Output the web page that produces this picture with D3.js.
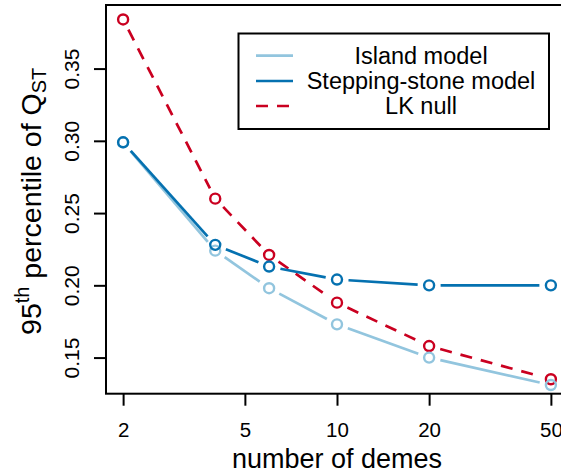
<!DOCTYPE html>
<html>
<head>
<meta charset="utf-8">
<script src="https://cdn.jsdelivr.net/npm/d3@7"></script>
<style>
  body { margin: 0; background: #fff; }
  svg { display: block; font-family: "Liberation Sans", Arial, Helvetica, sans-serif; }
</style>
</head>
<body>
<div id="chart"></div>
<script>
// values
const demes = [2, 4, 6, 10, 20, 50];
const island = [0.299, 0.224, 0.198, 0.173, 0.150, 0.131];
const steppingStone = [0.299, 0.228, 0.213, 0.204, 0.200, 0.200];
const lkNull = [0.384, 0.260, 0.221, 0.188, 0.158, 0.135];

const xTicks = [2, 5, 10, 20, 50];
const yTicks = [0.15, 0.20, 0.25, 0.30, 0.35];

const seriesNames = ["Island model", "Stepping-stone model", "LK null"];
const seriesColors = ["#92c5de", "#0571b0", "#ca0020"];
const seriesDash = [null, null, "12,9"];

const width = 561, height = 476;
const box = { left: 106, top: 5, right: 568, bottom: 393.7 };

// R-style 4% extension on the log axis
const span = 50 / 2;
const x = d3.scaleLog()
  .domain([2 / Math.pow(span, 0.04), 50 * Math.pow(span, 0.04)])
  .range([box.left, box.right]);

const y = d3.scaleLinear()
  .domain([0.125, 0.394])
  .range([box.bottom, box.top]);

const svg = d3.select("#chart").append("svg")
  .attr("width", width)
  .attr("height", height);

// plotted series, drawn in this order
const series = [
  { name: seriesNames[2], values: lkNull, color: seriesColors[2], dash: seriesDash[2] },
  { name: seriesNames[0], values: island, color: seriesColors[0], dash: seriesDash[0] },
  { name: seriesNames[1], values: steppingStone, color: seriesColors[1], dash: seriesDash[1] },
];

const gap = 11.5; // type="b" gap around points

series.forEach(s => {
  const pts = demes.map((d, i) => [x(d), y(s.values[i])]);
  const g = svg.append("g");
  d3.pairs(pts).forEach(([a, b]) => {
    const dx = b[0] - a[0], dy = b[1] - a[1];
    const len = Math.hypot(dx, dy);
    if (len <= 2 * gap) return;
    const ux = dx / len, uy = dy / len;
    g.append("line")
      .attr("x1", a[0] + ux * gap).attr("y1", a[1] + uy * gap)
      .attr("x2", b[0] - ux * gap).attr("y2", b[1] - uy * gap)
      .attr("stroke", s.color)
      .attr("stroke-width", 2.7)
      .attr("stroke-dasharray", s.dash);
  });
  g.selectAll("circle")
    .data(pts)
    .join("circle")
    .attr("cx", d => d[0])
    .attr("cy", d => d[1])
    .attr("r", 5)
    .attr("fill", "none")
    .attr("stroke", s.color)
    .attr("stroke-width", 2.4);
});

// box
svg.append("rect")
  .attr("x", box.left).attr("y", box.top)
  .attr("width", box.right - box.left)
  .attr("height", box.bottom - box.top)
  .attr("fill", "none")
  .attr("stroke", "#000")
  .attr("stroke-width", 2);

// x axis
const xAxis = svg.append("g")
  .attr("transform", `translate(0,${box.bottom})`)
  .call(d3.axisBottom(x).tickValues(xTicks).tickFormat(d3.format("d")).tickSize(12).tickPadding(17));
xAxis.select(".domain").remove();
xAxis.selectAll("line").attr("stroke", "#000").attr("stroke-width", 2);
xAxis.selectAll("text").attr("font-size", 20.5).attr("fill", "#000").attr("font-family", null);

// y axis, labels rotated like R's las=0
const yAxis = svg.append("g")
  .attr("transform", `translate(${box.left},0)`)
  .call(d3.axisLeft(y).tickValues(yTicks).tickFormat(d3.format(".2f")).tickSize(12));
yAxis.select(".domain").remove();
yAxis.selectAll("line").attr("stroke", "#000").attr("stroke-width", 2);
yAxis.selectAll("text")
  .attr("font-size", 21).attr("fill", "#000").attr("font-family", null)
  .attr("text-anchor", "middle")
  .attr("transform", "rotate(-90)")
  .attr("x", 0).attr("y", -27.5).attr("dy", null);

// axis titles
svg.append("text")
  .attr("x", (box.left + box.right) / 2)
  .attr("y", 468)
  .attr("text-anchor", "middle")
  .attr("font-size", 27)
  .text("number of demes");

const yTitle = svg.append("text")
  .attr("transform", `translate(41,${(box.top + box.bottom) / 2 + 2}) rotate(-90)`)
  .attr("text-anchor", "middle")
  .attr("font-size", 28.5);
yTitle.append("tspan").text("95");
yTitle.append("tspan").attr("font-size", 20).attr("dy", -12).text("th");
yTitle.append("tspan").attr("dy", 12).text(" percentile of Q");
yTitle.append("tspan").attr("font-size", 20).attr("dy", 5).text("ST");

// legend
const legend = svg.append("g");
legend.append("rect")
  .attr("x", 238.5).attr("y", 33.5)
  .attr("width", 310.5).attr("height", 95.5)
  .attr("fill", "#fff")
  .attr("stroke", "#000")
  .attr("stroke-width", 2);

const legendRows = [55.7, 81, 106];
seriesNames.forEach((name, i) => {
  legend.append("line")
    .attr("x1", 256).attr("x2", 293)
    .attr("y1", legendRows[i]).attr("y2", legendRows[i])
    .attr("stroke", seriesColors[i])
    .attr("stroke-width", 2.7)
    .attr("stroke-dasharray", seriesDash[i]);
  legend.append("text")
    .attr("x", 421).attr("y", legendRows[i])
    .attr("dy", "0.36em")
    .attr("text-anchor", "middle")
    .attr("font-size", 23.5)
    .text(name);
});
</script>
</body>
</html>
